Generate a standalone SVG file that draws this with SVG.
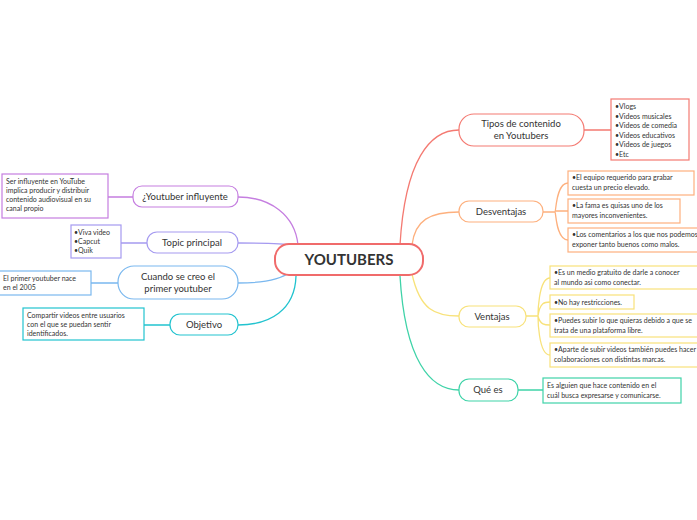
<svg xmlns="http://www.w3.org/2000/svg" width="697" height="520" viewBox="0 0 697 520">
<style>
text{font-family:Lato,"Noto Sans",sans-serif;fill:#333}
.n{font-size:9.5px;text-anchor:middle}
.l{font-size:7px}
.c{fill:none;stroke-width:1.3}
.t{fill:#fff;stroke-width:1.2}
</style>
<rect width="697" height="520" fill="#fff"/>
<g id="connectors">
<path class="c" stroke="#f47a72" d="M400,245 C405,160 430,130 459,130 M584,130 L611,130"/>
<path class="c" stroke="#fdb07e" d="M412,245 C415,220 430,212 459,212 M543,212 L555,212 M568,183 C556,183 556,212 555,212 C556,212 556,240 568,240 M555,211 L568,211"/>
<path class="c" stroke="#f8e27a" d="M412,274 C420,310 435,316 459,316 M526,316 L538,316 M550,278 C538,278 538,316 538,316 C538,316 538,355 550,355 M538,316 C540,302 545,302 550,302 M538,316 C540,325 545,325 550,325"/>
<path class="c" stroke="#3fd3a8" d="M400,276 C405,360 430,390 459,390 M518,390 L543,390"/>
<path class="c" stroke="#c57ee0" d="M298,245 C295,215 270,197 238,197 M133,197 L108,197"/>
<path class="c" stroke="#a59af0" d="M290,245 C285,243 260,243 238,243 M147,243 L121,243"/>
<path class="c" stroke="#7ab8ef" d="M290,272 C280,280 260,283 238,283 M118,283 L91,283"/>
<path class="c" stroke="#22c3cf" d="M296,276 C295,310 270,325 238,325 M170,325 L144,325"/>
</g>
<g id="center"><rect x="275" y="244" width="148" height="31" rx="14" fill="#fff" stroke="#f06b6b" stroke-width="2"/><text x="349" y="265" text-anchor="middle" font-weight="bold" style="font-size:15px">YOUTUBERS</text></g>
<g id="tipos"><rect class="t" stroke="#f47a72" x="459" y="114" width="125" height="32" rx="15"/><text class="n" x="521" y="127">Tipos de contenido</text><text class="n" x="521" y="139">en Youtubers</text></g>
<g id="tipos-leaf"><rect class="t" stroke="#f47a72" x="611" y="99" width="78" height="61"/><text class="l" x="615" y="109">•Vlogs</text><text class="l" x="615" y="118.5">•Videos musicales</text><text class="l" x="615" y="128">•Videos de comedia</text><text class="l" x="615" y="137.5">•Videos educativos</text><text class="l" x="615" y="147">•Videos de juegos</text><text class="l" x="615" y="156.5">•Etc</text></g>
<g id="desv"><rect class="t" stroke="#fdb07e" x="459" y="201" width="84" height="21" rx="10"/><text class="n" x="501" y="215">Desventajas</text></g>
<g id="desv1"><rect class="t" stroke="#fdb07e" x="568" y="171" width="126" height="24"/><text class="l" x="572" y="180">•El equipo requerido para grabar</text><text class="l" x="572" y="190">cuesta un precio elevado.</text></g>
<g id="desv2"><rect class="t" stroke="#fdb07e" x="568" y="199" width="112" height="24"/><text class="l" x="572" y="208">•La fama es quisas uno de los</text><text class="l" x="572" y="218">mayores inconvenientes.</text></g>
<g id="desv3"><rect class="t" stroke="#fdb07e" x="568" y="228" width="132" height="24"/><text class="l" x="572" y="237">•Los comentarios a los que nos podemos</text><text class="l" x="572" y="247">exponer tanto buenos como malos.</text></g>
<g id="vent"><rect class="t" stroke="#f8e27a" x="459" y="306" width="67" height="21" rx="10"/><text class="n" x="492" y="320">Ventajas</text></g>
<g id="vent1"><rect class="t" stroke="#f8e27a" x="550" y="266" width="150" height="23"/><text class="l" x="554" y="275">•Es un medio gratuito de darle a conocer</text><text class="l" x="554" y="285">al mundo asi como conectar.</text></g>
<g id="vent2"><rect class="t" stroke="#f8e27a" x="550" y="295" width="84" height="14"/><text class="l" x="554" y="305">•No hay restricciones.</text></g>
<g id="vent3"><rect class="t" stroke="#f8e27a" x="550" y="314" width="150" height="23"/><text class="l" x="554" y="323">•Puedes subir lo que quieras debido a que se</text><text class="l" x="554" y="333">trata de una plataforma libre.</text></g>
<g id="vent4"><rect class="t" stroke="#f8e27a" x="550" y="343" width="150" height="24"/><text class="l" x="554" y="352">•Aparte de subir videos también puedes hacer</text><text class="l" x="554" y="362">colaboraciones con distintas marcas.</text></g>
<g id="que"><rect class="t" stroke="#3fd3a8" x="459" y="379" width="59" height="22" rx="10"/><text class="n" x="488" y="393">Qué es</text></g>
<g id="que-leaf"><rect class="t" stroke="#3fd3a8" x="543" y="378" width="138" height="25"/><text class="l" x="547" y="388">Es alguien que hace contenido en el</text><text class="l" x="547" y="398">cuál busca expresarse y comunicarse.</text></g>
<g id="infl"><rect class="t" stroke="#c57ee0" x="133" y="186" width="105" height="21" rx="9"/><text class="n" x="185" y="200">¿Youtuber influyente</text></g>
<g id="infl-leaf"><rect class="t" stroke="#c57ee0" x="2" y="174" width="106" height="44"/><text class="l" x="6" y="184">Ser influyente en YouTube</text><text class="l" x="6" y="193">implica producir y distribuir</text><text class="l" x="6" y="202">contenido audiovisual en su</text><text class="l" x="6" y="211">canal propio</text></g>
<g id="topic"><rect class="t" stroke="#a59af0" x="147" y="232" width="91" height="21" rx="10"/><text class="n" x="192" y="246">Topic principal</text></g>
<g id="topic-leaf"><rect class="t" stroke="#a59af0" x="71" y="225" width="50" height="33"/><text class="l" x="74" y="235">•Viva video</text><text class="l" x="74" y="244">•Capcut</text><text class="l" x="74" y="253">•Quik</text></g>
<g id="cuando"><rect class="t" stroke="#7ab8ef" x="118" y="266" width="120" height="33" rx="16"/><text class="n" x="178" y="280">Cuando se creo el</text><text class="n" x="178" y="292">primer youtuber</text></g>
<g id="cuando-leaf"><rect class="t" stroke="#7ab8ef" x="-2" y="271" width="93" height="24"/><text class="l" x="3" y="281">El primer youtuber nace</text><text class="l" x="3" y="290">en el 2005</text></g>
<g id="obj"><rect class="t" stroke="#22c3cf" x="170" y="314" width="68" height="21" rx="10"/><text class="n" x="204" y="328">Objetivo</text></g>
<g id="obj-leaf"><rect class="t" stroke="#22c3cf" x="23" y="308" width="121" height="32"/><text class="l" x="27" y="318">Compartir videos entre usuarios</text><text class="l" x="27" y="327">con el que se puedan sentir</text><text class="l" x="27" y="336">identificados.</text></g>
</svg>
